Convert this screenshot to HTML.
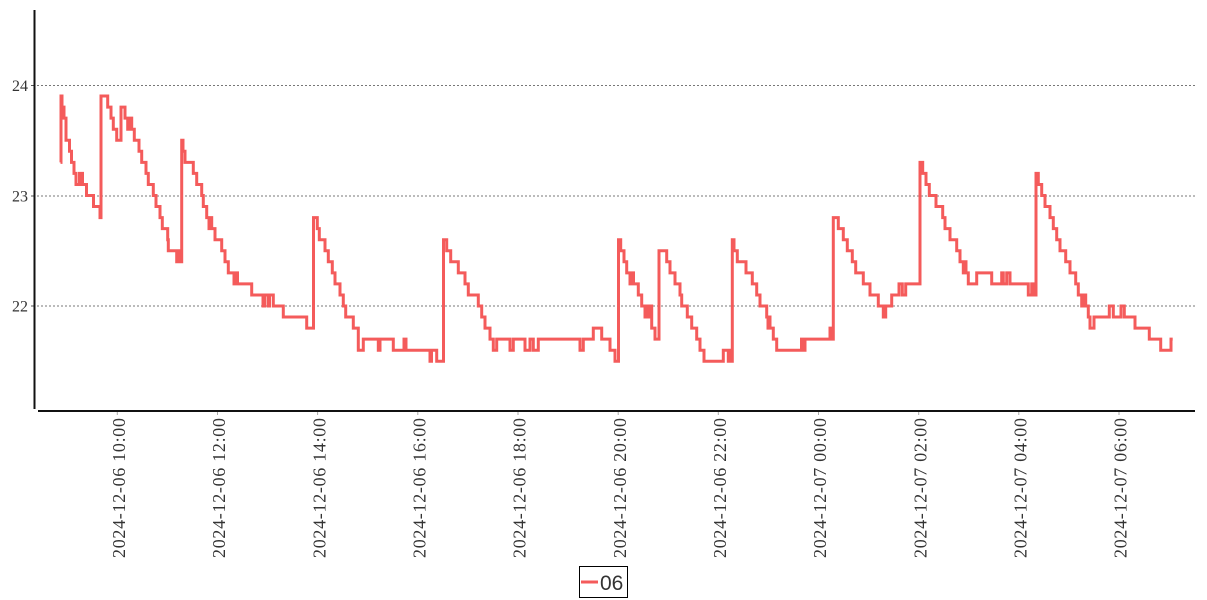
<!DOCTYPE html>
<html>
<head>
<meta charset="utf-8">
<style>
html,body{margin:0;padding:0;background:#fff;}
svg{display:block;}
</style>
</head>
<body>
<svg width="1207" height="600" viewBox="0 0 1207 600" xmlns="http://www.w3.org/2000/svg">
<rect x="0" y="0" width="1207" height="600" fill="#fff"/>
<!-- grid -->
<g stroke="#777" stroke-width="1" stroke-dasharray="2,2">
<line x1="37" y1="85.5" x2="1195" y2="85.5"/>
<line x1="37" y1="196" x2="1195" y2="196"/>
<line x1="37" y1="306" x2="1195" y2="306"/>
</g>
<!-- y ticks -->
<g stroke="#555" stroke-width="1">
<line x1="31" y1="85.5" x2="34" y2="85.5"/>
<line x1="31" y1="196" x2="34" y2="196"/>
<line x1="31" y1="306" x2="34" y2="306"/>
</g>
<!-- axes -->
<line x1="34.5" y1="10" x2="34.5" y2="409" stroke="#111" stroke-width="2"/>
<line x1="38" y1="411" x2="1195" y2="411" stroke="#111" stroke-width="2"/>
<!-- y labels -->
<g font-family="Liberation Serif, DejaVu Serif, serif" font-size="16" fill="#333" text-anchor="end">
<text x="28" y="91">24</text>
<text x="28" y="201.5">23</text>
<text x="28" y="311.5">22</text>
</g>
<!-- x ticks -->
<g stroke="#aaa" stroke-width="1">
<line x1="117.3" y1="412" x2="117.3" y2="415"/>
<line x1="217.5" y1="412" x2="217.5" y2="415"/>
<line x1="317.6" y1="412" x2="317.6" y2="415"/>
<line x1="417.8" y1="412" x2="417.8" y2="415"/>
<line x1="518" y1="412" x2="518" y2="415"/>
<line x1="618.2" y1="412" x2="618.2" y2="415"/>
<line x1="718.3" y1="412" x2="718.3" y2="415"/>
<line x1="818.5" y1="412" x2="818.5" y2="415"/>
<line x1="918.7" y1="412" x2="918.7" y2="415"/>
<line x1="1018.8" y1="412" x2="1018.8" y2="415"/>
<line x1="1119" y1="412" x2="1119" y2="415"/>
</g>
<!-- x labels -->
<g font-family="Liberation Serif, DejaVu Serif, serif" font-size="18" fill="#333" text-anchor="end">
<text transform="translate(125,418) rotate(-90)" textLength="140" lengthAdjust="spacing">2024-12-06 10:00</text>
<text transform="translate(225.2,418) rotate(-90)" textLength="140" lengthAdjust="spacing">2024-12-06 12:00</text>
<text transform="translate(325.3,418) rotate(-90)" textLength="140" lengthAdjust="spacing">2024-12-06 14:00</text>
<text transform="translate(425.5,418) rotate(-90)" textLength="140" lengthAdjust="spacing">2024-12-06 16:00</text>
<text transform="translate(525.7,418) rotate(-90)" textLength="140" lengthAdjust="spacing">2024-12-06 18:00</text>
<text transform="translate(625.9,418) rotate(-90)" textLength="140" lengthAdjust="spacing">2024-12-06 20:00</text>
<text transform="translate(726,418) rotate(-90)" textLength="140" lengthAdjust="spacing">2024-12-06 22:00</text>
<text transform="translate(826.2,418) rotate(-90)" textLength="140" lengthAdjust="spacing">2024-12-07 00:00</text>
<text transform="translate(926.4,418) rotate(-90)" textLength="140" lengthAdjust="spacing">2024-12-07 02:00</text>
<text transform="translate(1026.5,418) rotate(-90)" textLength="140" lengthAdjust="spacing">2024-12-07 04:00</text>
<text transform="translate(1126.7,418) rotate(-90)" textLength="140" lengthAdjust="spacing">2024-12-07 06:00</text>
</g>
<!-- series -->
<g transform="matrix(1 0 0 -110.5 0 2737)">
<path vector-effect="non-scaling-stroke" fill="none" stroke="#f45b5b" stroke-width="3" stroke-linejoin="miter" d="
M60.5 23.3 H61 V23.9 H62 V23.8 H64 V23.7 H66 V23.5 H69.5 V23.4 H71.5 V23.3 H74 V23.2 H76 V23.1 H79.5 V23.2 H82.5 V23.1 H86.5 V23.0 H93.5 V22.9 H100 V22.8 H101
V23.9 H107.7 V23.8 H111 V23.7 H113.3 V23.6 H116.7 V23.5 H121 V23.8 H125 V23.7 H127.7 V23.6 H128.5 V23.7 H129.5 V23.6 H130.5 V23.7 H131.7 V23.6 H134.3 V23.5 H139 V23.4 H141.7 V23.3 H146 V23.2 H148.3 V23.1 H153.3 V23.0 H156 V22.9 H160 V22.8 H162.3 V22.7 H167.7 V22.6 H168.3 V22.5 H176.7 V22.4 H177.5 V22.5 H179 V22.4 H181.7
V23.5 H183 V23.4 H185 V23.3 H193.3 V23.2 H196.7 V23.1 H201.7 V23.0 H203.3 V22.9 H206.7 V22.8 H209 V22.7 H210.5 V22.8 H211.7 V22.7 H215 V22.6 H221.7 V22.5 H225 V22.4 H228.3 V22.3 H234 V22.2 H235.5 V22.3 H237.5 V22.2 H251.7 V22.1 H263 V22.0 H264.5 V22.1 H268 V22.0 H269.5 V22.1 H273.3 V22.0 H283.3 V21.9 H306.7 V21.8 H313.5
V22.8 H317.3 V22.7 H319.3 V22.6 H325 V22.5 H328.3 V22.4 H332.3 V22.3 H335 V22.2 H340 V22.1 H343.3 V22.0 H345.7 V21.9 H353.3 V21.8 H358.3 V21.6 H363.3 V21.7 H378.3 V21.6 H380 V21.7 H393.3 V21.6 H404 V21.7 H406 V21.6 H430 V21.5 H431.5 V21.6 H436.7 V21.5 H443.5
V22.6 H446.7 V22.5 H450.7 V22.4 H458.3 V22.3 H465 V22.2 H468.3 V22.1 H478.3 V22.0 H481.7 V21.9 H485 V21.8 H490 V21.7 H493.3 V21.6 H496.7 V21.7 H510 V21.6 H513.3 V21.7 H525 V21.6 H530 V21.7 H533.3 V21.6 H538.3 V21.7 H580 V21.6 H583.3 V21.7 H593.3 V21.8 H601.7 V21.7 H610 V21.6 H615 V21.5 H618.5
V22.6 H620.7 V22.5 H624 V22.4 H626.7 V22.3 H630 V22.2 H632 V22.3 H633.5 V22.2 H638.3 V22.1 H641.7 V22.0 H645 V21.9 H646.7 V22.0 H649.5 V21.9 H650.5 V22.0 H651.7 V21.8 H655 V21.7 H659
V22.5 H666.7 V22.4 H670 V22.3 H675 V22.2 H680 V22.1 H681.7 V22.0 H687.3 V21.9 H691.7 V21.8 H696.7 V21.7 H700 V21.6 H704 V21.5 H723.3 V21.6 H728.3 V21.5 H729 V21.6 H730 V21.5 H732.3
V22.6 H734 V22.5 H737.3 V22.4 H746 V22.3 H752.3 V22.2 H756.7 V22.1 H760 V22.0 H766.7 V21.9 H768 V21.8 H769 V21.9 H770 V21.8 H773.3 V21.7 H776.7 V21.6 H801.5 V21.7 H802.5 V21.6 H805 V21.7 H830 V21.8 H831.7 V21.7 H833.3
V22.8 H838.3 V22.7 H843.3 V22.6 H847.3 V22.5 H852.3 V22.4 H855.7 V22.3 H863.3 V22.2 H870 V22.1 H878.3 V22.0 H883.3 V21.9 H885.7 V22.0 H891.7 V22.1 H899 V22.2 H902.3 V22.1 H905.7 V22.2 H920
V23.3 H922.7 V23.2 H926 V23.1 H929.3 V23.0 H936 V22.9 H942.7 V22.8 H945 V22.7 H950 V22.6 H956.7 V22.5 H960 V22.4 H963.3 V22.3 H964.5 V22.4 H966 V22.3 H968.3 V22.2 H976.7 V22.3 H991.7 V22.2 H1001.7 V22.3 H1003.3 V22.2 H1006.7 V22.3 H1010 V22.2 H1028.3 V22.1 H1031.7 V22.2 H1033.3 V22.1 H1036
V23.2 H1038.3 V23.1 H1041.7 V23.0 H1045 V22.9 H1050 V22.8 H1053.3 V22.7 H1056.7 V22.6 H1060 V22.5 H1065.7 V22.4 H1070 V22.3 H1075.7 V22.2 H1078.3 V22.1 H1081.7 V22.0 H1084.3 V22.1 H1085.7 V22.0 H1088.3 V21.9 H1090 V21.8 H1094 V21.9 H1109.3 V22.0 H1113.3 V21.9 H1121 V22.0 H1124.3 V21.9 H1135 V21.8 H1149.3 V21.7 H1160.7 V21.6 H1171 V21.7 H1172.7"/>
</g>
<!-- legend -->
<rect x="579.5" y="566.5" width="48" height="31" fill="#fff" stroke="#000" stroke-width="1"/>
<line x1="581" y1="582" x2="598" y2="582" stroke="#f45b5b" stroke-width="3"/>
<text x="600" y="590" font-family="Liberation Sans, DejaVu Sans, sans-serif" font-size="21" fill="#333">06</text>
</svg>
</body>
</html>
